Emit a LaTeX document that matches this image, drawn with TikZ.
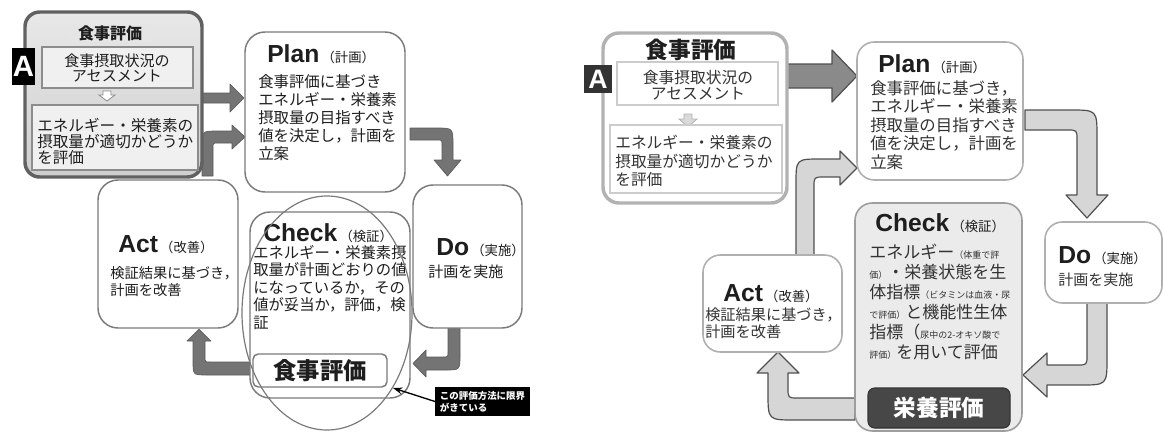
\documentclass[tikz,border=0pt]{standalone}
\usepackage{fontspec}
\setmainfont{Noto Sans CJK JP}
\newfontfamily\lat{Liberation Sans}
\usetikzlibrary{arrows.meta}
\definecolor{lgray}{HTML}{7A7A7A}
\definecolor{rgray}{HTML}{B0B0B0}
\definecolor{arrLfill}{HTML}{747474}
\definecolor{arrLdraw}{HTML}{5A5A5A}
\definecolor{arrRfill}{HTML}{D6D6D6}
\definecolor{arrRdraw}{HTML}{505050}
\definecolor{arrRdark}{HTML}{8A8A8A}
\definecolor{ltext}{HTML}{1E1E1E}
\definecolor{rtext}{HTML}{333333}
\newcommand\fsz[2]{\fontsize{#1}{#2}\selectfont}
\newcommand\ttl[2]{{\lat\bfseries\fsz{18.5}{18.5}#1}\,{\fsz{10}{10}（#2）}}
\newcommand\smj[1]{{\fontsize{6.75}{15}\selectfont #1}}
\begin{document}
\begin{tikzpicture}[x=0.75pt,y=-0.75pt,
  txt/.style={inner sep=0pt, anchor=north west, align=left},
  ctxt/.style={inner sep=0pt, align=center},
  ttlnode/.style={inner sep=0pt, anchor=base west},
  boxL/.style={draw=lgray, line width=1.1pt, rounded corners=15pt, fill=white},
  boxR/.style={draw=rgray, line width=1.2pt, rounded corners=13pt, fill=white},
  arrowL/.style={fill=arrLfill, draw=arrLdraw, line width=0.5pt, line join=round},
  arrowR/.style={fill=arrRfill, draw=arrRdraw, line width=0.9pt, line join=round}]
\useasboundingbox (0,0) rectangle (1163,432);

% ================= LEFT PANEL =================
% arrows
\path[arrowL] (202,93) -- (230,93) -- (230,84) -- (244,98) -- (230,112) -- (230,103) -- (202,103) -- cycle;
\path[arrowL] (202,176) -- (202,147) .. controls (202,131) .. (218,131) -- (232,131) -- (232,125) -- (245,137) -- (232,149) -- (232,143) -- (218,143) .. controls (213,143) .. (213,148) -- (213,176) -- cycle;
\path[arrowL] (410,128) -- (436,128) .. controls (453,128) .. (453,145) -- (453,160) -- (461,160) -- (447.5,176) -- (434,160) -- (442,160) -- (442,145) .. controls (442,140) .. (437,140) -- (410,140) -- cycle;
\path[arrowL] (448,328) -- (460,328) -- (460,355) .. controls (460,370) .. (445,370) -- (426,370) -- (426,377) -- (413,363.5) -- (426,350) -- (426,357) -- (443,357) .. controls (448,357) .. (448,352) -- cycle;
\path[arrowL] (250,362) -- (250,375) -- (207,375) .. controls (193,375) .. (193,361) -- (193,341) -- (187,341) -- (199,329) -- (211,341) -- (205,341) -- (205,357) .. controls (205,362) .. (210,362) -- cycle;

% food evaluation box
\draw[draw=black!62, line width=2.6pt, rounded corners=11pt, top color=black!9, bottom color=black!19] (25,12) rectangle (202,177);
\fill[black!10] (70,25) rectangle (152,42);
\node[ctxt, font=\bfseries\fsz{12}{12}, text=ltext] (lfoodT) at (110,33.5) {食事評価};
\draw[draw=black!45, line width=0.8pt, fill=black!6] (42,47) rectangle (193,88);
\node[ctxt, font=\fsz{11.3}{11.6}, text=ltext] (lfood1) at (117,68) {食事摂取状況の\\アセスメント};
\draw[draw=black!45, line width=0.6pt, fill=white] (103,91) -- (111,91) -- (111,95) -- (115,95) -- (107,101) -- (99,95) -- (103,95) -- cycle;
\draw[draw=black!45, line width=0.8pt, fill=black!6] (32,105) rectangle (198,170);
\node[txt, font=\fsz{11.7}{12}, text=ltext] (lfood2) at (37,118) {エネルギー・栄養素の\\摂取量が適切かどうか\\を評価};
\node[fill=black, text=white, font=\lat\bfseries\fsz{22}{22}, inner sep=0pt, minimum width=17.25pt, minimum height=27.75pt] (lA) at (23.5,66.5) {A};

% Plan
\draw[boxL] (245,32) rectangle (405,192);
\node[ttlnode, text=ltext] (lplanT) at (267,62) {\ttl{Plan}{計画}};
\node[txt, font=\fsz{11.55}{13.5}, text=ltext] (lplan) at (258,74) {食事評価に基づき\\エネルギー・栄養素\\摂取量の目指すべき\\値を決定し，計画を\\立案};

% Do
\draw[boxL] (413,185) rectangle (522,328);
\node[ttlnode, text=ltext] (ldoT) at (436,255) {\ttl{Do}{実施}};
\node[txt, font=\fsz{11.25}{13}, text=ltext] (ldo) at (428,265) {計画を実施};

% Act
\draw[boxL] (98,180) rectangle (238,328);
\node[ttlnode, text=ltext] (lactT) at (118,252) {\ttl{Act}{改善}};
\node[txt, font=\fsz{10.7}{12.75}, text=ltext] (lact) at (110,266) {検証結果に基づき，\\計画を改善};

% Check
\draw[boxL] (250,212) rectangle (410,398);
\node[ttlnode, text=ltext] (lchkT) at (263,241) {\ttl{Check}{検証}};
\node[txt, font=\fsz{11.5}{13.1}, text=ltext] (lchk) at (253,245) {エネルギー・栄養素摂\\取量が計画どおりの値\\になっているか，その\\値が妥当か，評価，検\\証};
\draw[draw=lgray, line width=1.1pt, rounded corners=4pt, fill=white] (253,354) rectangle (387,387);
\node[ctxt, font=\bfseries\fsz{17.5}{17.5}, text=ltext] (lchkEval) at (320,371) {食事評価};
\draw[draw=lgray, line width=0.9pt] (327,313) ellipse [x radius=85, y radius=117];

% note
\node[fill=black, text=white, font=\bfseries\fsz{7.1}{9}, align=left, inner xsep=3.5pt, inner ysep=3pt, anchor=west] (lnote) at (435,401.5) {この評価方法に限界\\がきている};
\coordinate (lnoteTip) at (393,388);
\draw[-{Stealth[length=7pt,width=5pt]}, line width=1pt] (lnote.west) -- (lnoteTip);

% ================= RIGHT PANEL =================
% arrows
\path[fill=arrRdark, draw=arrRdraw, line width=0.9pt, line join=round] (787,64) -- (832,64) -- (832,50) -- (857,76) -- (832,102) -- (832,88) -- (787,88) -- cycle;
\path[arrowR] (1025,110) -- (1070,110) .. controls (1097,110) .. (1097,137) -- (1097,195) -- (1108,195) -- (1087,218) -- (1066,195) -- (1077,195) -- (1077,140) .. controls (1077,130) .. (1067,130) -- (1025,130) -- cycle;
\path[arrowR] (1087,303) -- (1107,303) -- (1107,358) .. controls (1107,385) .. (1080,385) -- (1047,385) -- (1047,397) -- (1023,375) -- (1047,353) -- (1047,365) -- (1077,365) .. controls (1087,365) .. (1087,355) -- cycle;
\path[arrowR] (855,398) -- (855,420) -- (795,420) .. controls (768,420) .. (768,393) -- (768,373) -- (757,373) -- (778,352) -- (799,373) -- (788,373) -- (788,388) .. controls (788,398) .. (798,398) -- cycle;
\path[arrowR] (796,255) -- (796,184) .. controls (796,159) .. (821,159) -- (840,159) -- (840,151) -- (857,168) -- (840,185) -- (840,177) -- (824,177) .. controls (814,177) .. (814,187) -- (814,255) -- cycle;

% food evaluation box
\draw[draw=black!30, line width=2.6pt, rounded corners=12pt, fill=white] (603,33) rectangle (787,203);
\node[ctxt, font=\bfseries\fsz{17}{17}, text=black!88] (rfoodT) at (691,50) {食事評価};
\draw[draw=black!20, line width=0.8pt, fill=white] (617,62) rectangle (778,105);
\node[ctxt, font=\fsz{11.8}{12}, text=rtext] (rfood1) at (698,85) {食事摂取状況の\\アセスメント};
\draw[draw=black!30, line width=0.6pt, fill=black!15] (684,114) -- (692,114) -- (692,119) -- (697,119) -- (688,127) -- (679,119) -- (684,119) -- cycle;
\draw[draw=black!20, line width=0.8pt, fill=white] (610,125) rectangle (782,193);
\node[txt, font=\fsz{11.8}{13.9}, text=rtext] (rfood2) at (615,135) {エネルギー・栄養素の\\摂取量が適切かどうか\\を評価};
\node[fill=black!80, text=white, font=\lat\bfseries\fsz{20}{20}, inner sep=0pt, minimum width=21pt, minimum height=21pt] (rA) at (598,79) {A};

% Plan
\draw[boxR] (857,42) rectangle (1023,180);
\node[ttlnode, text=ltext] (rplanT) at (878,72) {\ttl{Plan}{計画}};
\node[txt, font=\fsz{12.3}{13.9}, text=rtext] (rplan) at (870,80) {食事評価に基づき，\\エネルギー・栄養素\\摂取量の目指すべき\\値を決定し，計画を\\立案};

% Do
\draw[boxR] (1045,222) rectangle (1162,303);
\node[ttlnode, text=ltext] (rdoT) at (1058,263) {\ttl{Do}{実施}};
\node[txt, font=\fsz{11.25}{13}, text=rtext] (rdo) at (1058,272.5) {計画を実施};

% Act
\draw[boxR] (703,255) rectangle (842,352);
\node[ttlnode, text=ltext] (ractT) at (723,301) {\ttl{Act}{改善}};
\node[txt, font=\fsz{11.4}{12.75}, text=rtext] (ract) at (705,307) {検証結果に基づき，\\計画を改善};

% Check
\draw[boxR, fill=black!8, draw=black!38] (855,203) rectangle (1022,431);
\node[ttlnode, text=ltext] (rchkT) at (875,231) {\ttl{Check}{検証}};
\node[txt, font=\fsz{12.75}{15}, text=rtext] (rchk) at (869,244) {エネルギー\smj{（体重で評}\\\smj{価）}・栄養状態を生\\体指標\smj{（ビタミンは血液・尿}\\\smj{で評価）}と機能性生体\\指標（\smj{尿中の2-オキソ酸で}\\\smj{評価）}を用いて評価};
\draw[fill=black!72, draw=black!80, line width=0.8pt, rounded corners=5pt] (868,388) rectangle (1010,428);
\node[ctxt, font=\bfseries\fsz{17}{17}, text=white] (rchkEval) at (939,408) {栄養評価};
\end{tikzpicture}
\end{document}
